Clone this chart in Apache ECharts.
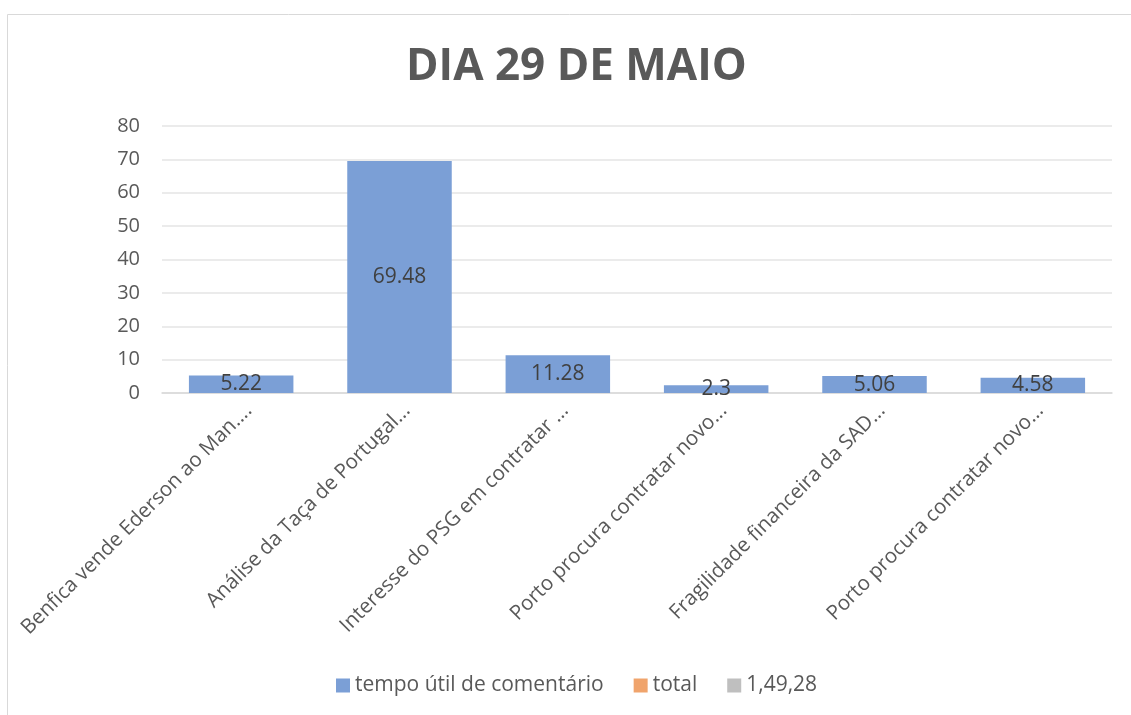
<!DOCTYPE html>
<html>
<head>
<meta charset="utf-8">
<script src="https://cdn.jsdelivr.net/npm/echarts@6/dist/echarts.min.js"></script>
<style>
  html, body { margin: 0; padding: 0; background: #fff; }
  #chart { width: 1131px; height: 715px; }
</style>
</head>
<body>
<div id="chart"></div>
<script>
const categories = [
  'Benfica vende Ederson ao Man....',
  'Análise da Taça de Portugal...',
  'Interesse do PSG em contratar ...',
  'Porto procura contratar novo...',
  'Fragilidade financeira da SAD...',
  'Porto procura contratar novo...'
];
const tempoUtil = [5.22, 69.48, 11.28, 2.3, 5.06, 4.58];
const total = [];
const extra = [];
const seriesNames = ['tempo útil de comentário', 'total', '1,49,28'];
const yTicks = { min: 0, max: 80, interval: 10 };

const font = '"Open Sans", "Noto Sans", sans-serif';
const chart = echarts.init(document.getElementById('chart'));

chart.setOption({
  animation: false,
  graphic: [{
    type: 'rect',
    shape: { x: 7.5, y: 14.5, width: 1140, height: 720 },
    style: { fill: 'none', stroke: '#d9d9d9', lineWidth: 1 },
    silent: true
  }],
  title: {
    text: 'DIA 29 DE MAIO',
    left: 401,
    top: 40,
    textStyle: { fontFamily: font, fontSize: 44, fontWeight: 'bold', color: '#595959' }
  },
  legend: {
    bottom: 14,
    left: 331,
    itemWidth: 14,
    itemHeight: 14,
    itemGap: 30,
    icon: 'rect',
    selectedMode: false,
    textStyle: { fontFamily: font, fontSize: 21, color: '#595959' },
    data: seriesNames
  },
  grid: { left: 162, right: 19, top: 126, bottom: 322 },
  xAxis: {
    type: 'category',
    data: categories,
    axisLine: { lineStyle: { color: '#d9d9d9', width: 1.5 } },
    axisTick: { show: false },
    axisLabel: {
      rotate: 45,
      interval: 0,
      margin: 7,
      verticalAlign: 'top',
      fontFamily: font,
      fontSize: 20.5,
      color: '#595959'
    }
  },
  yAxis: {
    type: 'value',
    min: yTicks.min,
    max: yTicks.max,
    interval: yTicks.interval,
    axisLine: { show: false },
    axisTick: { show: false },
    splitLine: { lineStyle: { color: '#e4e4e4', width: 1.5 } },
    axisLabel: { fontFamily: font, fontSize: 20, color: '#595959', margin: 22 }
  },
  series: [
    {
      name: seriesNames[0],
      type: 'bar',
      stack: 'all',
      data: tempoUtil,
      barWidth: '66%',
      itemStyle: { color: '#7b9fd6' },
      label: {
        show: true,
        position: 'inside',
        fontFamily: font,
        fontSize: 21,
        color: '#404040'
      }
    },
    { name: seriesNames[1], type: 'bar', stack: 'all', barWidth: '66%', data: total, itemStyle: { color: '#f0a46c' } },
    { name: seriesNames[2], type: 'bar', stack: 'all', barWidth: '66%', data: extra, itemStyle: { color: '#bfbfbf' } }
  ]
});
</script>
</body>
</html>
